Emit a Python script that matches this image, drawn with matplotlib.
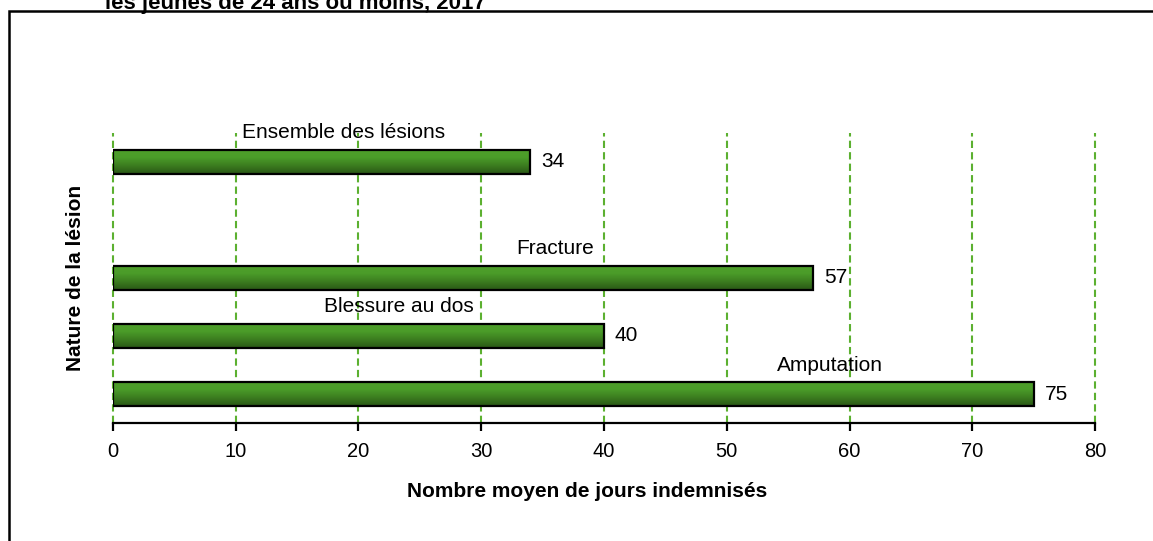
import matplotlib
matplotlib.use("Agg")
import matplotlib.pyplot as plt
import matplotlib.patches as mpatches
from matplotlib.colors import LinearSegmentedColormap
import numpy as np

plt.rcParams['font.family'] = ['Liberation Sans', 'DejaVu Sans']

# data ----------------->
categories = ["Amputation", "Blessure au dos", "Fracture", "", "Ensemble des lésions"]
values = [75, 40, 57, None, 34]
# where each category label sits along x
label_x = [58.4, 23.3, 36.0, None, 18.8]
xticks = [0, 10, 20, 30, 40, 50, 60, 70, 80]

fig = plt.figure(figsize=(11.53, 5.41), dpi=100)
ax = fig.add_axes([0.098, 0.2181, 0.8517, 0.5361])

# gradient green for the bars
green = LinearSegmentedColormap.from_list("g", ["#2a5716", "#3b7c1f", "#4b9c29", "#4f9f2b"])
grad = np.linspace(0, 1, 100).reshape(-1, 1)

ypos = np.arange(len(categories))
bar_h = 0.42
for y, v, lx, name in zip(ypos, values, label_x, categories):
    if v is None:
        continue
    rect = mpatches.Rectangle((0, y - bar_h / 2), v, bar_h, facecolor="none",
                              edgecolor="black", linewidth=1.6, zorder=4)
    ax.add_patch(rect)
    im = ax.imshow(grad, cmap=green, aspect="auto", origin="lower",
                   extent=(0, v, y - bar_h / 2, y + bar_h / 2), zorder=3)
    im.set_clip_path(rect)
    ax.annotate(str(v), (v, y), xytext=(11, 0), textcoords="offset pixels",
                va="center", ha="left", fontsize=15)
    ax.text(lx, y + 0.5, name, ha="center", va="center", fontsize=15)

ax.set_xlim(0, 80)
ax.set_ylim(-0.5, 4.5)
ax.set_xticks(xticks)
ax.set_yticks([])
for xt in xticks:
    ax.axvline(xt, color="#5cb030", linewidth=1.5, linestyle=(0, (3.5, 2)), zorder=1, clip_on=False)

for s in ["left", "right", "top"]:
    ax.spines[s].set_visible(False)
ax.spines["bottom"].set_linewidth(1.6)
ax.spines["bottom"].set_zorder(5)
ax.tick_params(axis="x", length=6, width=1.6, labelsize=14.5, pad=8)

ax.set_xlabel("Nombre moyen de jours indemnisés", fontsize=15, fontweight="bold")
ax.xaxis.set_label_coords(0.483, -0.205)
ax.set_ylabel("Nature de la lésion", fontsize=15, fontweight="bold", labelpad=20)

# cut-off title and frame
fig.text(0.091, 1 - 9 / 541, "les jeunes de 24 ans ou moins, 2017", fontsize=16,
         fontweight="bold", va="baseline", ha="left")
border = mpatches.Rectangle((9 / 1153, -0.2), 1.2, 1.2 - 11 / 541, transform=fig.transFigure,
                            facecolor="none", edgecolor="black", linewidth=1.8, clip_on=False)
fig.patches.append(border)

fig.savefig("out.png", dpi=100)
